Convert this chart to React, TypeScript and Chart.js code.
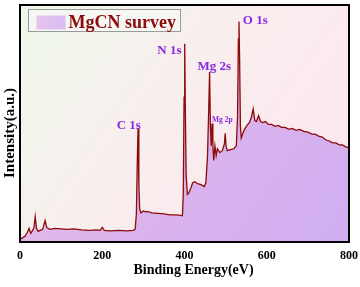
import React, { useEffect, useRef } from "react";
import { Chart, registerables } from "chart.js";

Chart.register(...registerables);

// ---- Data ----
const energyEV: number[] = [
  0, 5, 12, 18, 22, 26, 31, 34, 37, 40, 44, 49, 55, 61, 65, 72, 85, 100, 115, 130,
  150, 170, 185, 195, 200, 205, 220, 240, 260, 275, 280, 283, 285, 287, 289, 291, 294, 300, 305, 310,
  320, 335, 350, 365, 380, 390, 395, 397, 399, 400.5, 402, 404, 407, 410, 415, 420, 425, 432, 440, 448,
  452, 456, 459, 461, 463, 465, 467, 469, 471, 474, 477, 480, 486, 492, 497, 499, 501, 504, 512, 520,
  526, 529, 531, 532.5, 534, 536, 538, 542, 546, 552, 558, 563, 567, 571, 575, 580, 585, 590, 597, 604,
  612, 620, 628, 636, 645, 654, 662, 671, 680, 690, 700, 710, 718, 726, 735, 744, 752, 760, 768, 776,
  784, 792, 800,
];
const intensity: number[] = [
  3, 4, 6, 10, 14, 9, 12, 15, 26, 14, 11, 12, 13, 22, 15, 13, 14, 13.5, 13, 13.5,
  12.5, 12, 12.5, 12, 15, 12, 11.5, 12, 11.5, 12, 13, 29, 79, 117, 59, 34, 30, 32, 31, 31.5,
  30, 29.5, 29, 28, 28, 27.5, 27, 49, 149, 204, 139, 69, 49, 50, 55, 61, 62, 60, 59, 57,
  61, 89, 139, 175, 119, 99, 122, 99, 84, 99, 89, 96, 92, 94, 101, 112, 99, 94, 95, 96,
  99, 129, 209, 227, 189, 119, 107, 112, 116, 120, 123, 129, 137, 125, 124, 130, 124, 123, 124, 121,
  121, 119, 120, 118, 118, 116, 117, 115, 116, 114, 113, 111, 111, 109, 108, 105, 104, 102, 102, 100,
  100, 98, 97,
];
const xTicks: number[] = [0, 200, 400, 600, 800];
const seriesName = "MgCN survey";
const peakLabels: string[] = ["C 1s", "N 1s", "Mg 2s", "Mg 2p", "O 1s"];
const peakLabelEV: number[] = [264.6, 363.4, 472.4, 492, 572];
const peakLabelY: number[] = [116.7, 194, 177, 123.3, 224];
const peakLabelSize: number[] = [13, 13, 13, 7.5, 13];
const xTitle = "Binding Energy(eV)";
const yTitle = "Intensity(a.u.)";

const SERIF = "'Liberation Serif', 'Times New Roman', serif";

export default function App() {
  const canvasRef = useRef<HTMLCanvasElement | null>(null);

  useEffect(() => {
    document.body.style.margin = "0";
    const canvas = canvasRef.current;
    if (!canvas) return;

    const bgPlugin = {
      id: "bgPlugin",
      beforeDatasetsDraw(chart: any) {
        const { ctx, chartArea: a } = chart;
        ctx.save();
        const g = ctx.createLinearGradient(a.left, a.top, a.right, a.bottom);
        g.addColorStop(0, "#eef8ea");
        g.addColorStop(0.45, "#f9eeee");
        g.addColorStop(1, "#fde4ee");
        ctx.fillStyle = g;
        ctx.fillRect(a.left, a.top, a.right - a.left, a.bottom - a.top);
        ctx.restore();
      },
    };

    const overlayPlugin = {
      id: "overlayPlugin",
      afterDraw(chart: any) {
        const { ctx, chartArea: a, scales } = chart;
        const xs = scales.x;
        const ys = scales.y;
        ctx.save();
        // frame
        ctx.strokeStyle = "#000";
        ctx.lineWidth = 2;
        ctx.strokeRect(a.left, a.top, a.right - a.left, a.bottom - a.top);

        // legend box
        const lx = a.left + 8.5;
        const ly = a.top + 4.5;
        ctx.fillStyle = "rgba(246,246,244,0.9)";
        ctx.fillRect(lx, ly, 152, 22);
        ctx.strokeStyle = "#9a9a9a";
        ctx.lineWidth = 1;
        ctx.strokeRect(lx, ly, 152, 22);
        const sg = ctx.createLinearGradient(lx + 8, 0, lx + 37, 0);
        sg.addColorStop(0, "#e8c4ec");
        sg.addColorStop(1, "#d8bcf2");
        ctx.fillStyle = sg;
        ctx.fillRect(lx + 8, ly + 6, 29, 14);
        ctx.fillStyle = "#8b0a0a";
        ctx.font = `bold 18px ${SERIF}`;
        ctx.textAlign = "left";
        ctx.textBaseline = "alphabetic";
        ctx.fillText(seriesName, lx + 40, ly + 18);

        // peak labels
        ctx.fillStyle = "#8a2be2";
        ctx.textAlign = "center";
        for (let i = 0; i < peakLabels.length; i++) {
          ctx.font = `bold ${peakLabelSize[i]}px ${SERIF}`;
          ctx.fillText(
            peakLabels[i],
            xs.getPixelForValue(peakLabelEV[i]),
            ys.getPixelForValue(peakLabelY[i])
          );
        }

        // axis titles
        ctx.fillStyle = "#000";
        ctx.font = `bold 14px ${SERIF}`;
        ctx.textAlign = "center";
        ctx.fillText(xTitle, (a.left + a.right) / 2 + 9, a.bottom + 32);

        ctx.translate(13.5, (a.top + a.bottom) / 2 + 9.5);
        ctx.rotate(-Math.PI / 2);
        ctx.font = `bold 15px ${SERIF}`;
        ctx.fillText(yTitle, 0, 0);
        ctx.restore();
      },
    };

    const chart = new Chart(canvas, {
      type: "line",
      data: {
        datasets: [
          {
            label: seriesName,
            data: energyEV.map((e, i) => ({ x: e, y: intensity[i] })),
            borderColor: "#8b0a0a",
            borderWidth: 1.3,
            pointRadius: 0,
            tension: 0,
            fill: "origin",
            backgroundColor: (c: any) => {
              const a = c.chart.chartArea;
              if (!a) return "#dcb4ec";
              const g = c.chart.ctx.createLinearGradient(a.left, a.top, a.right, a.bottom);
              g.addColorStop(0, "#eac2ea");
              g.addColorStop(0.5, "#dcb4ec");
              g.addColorStop(1, "#d0aef2");
              return g;
            },
          },
        ],
      },
      options: {
        responsive: false,
        animation: false,
        events: [],
        layout: { padding: { left: 20, right: 11, top: 5, bottom: 24.6 } },
        plugins: {
          legend: { display: false },
          tooltip: { enabled: false },
        },
        scales: {
          x: {
            type: "linear",
            min: 0,
            max: 800,
            afterBuildTicks: (s: any) => {
              s.ticks = xTicks.map((v) => ({ value: v }));
            },
            grid: { display: false },
            border: { display: false },
            ticks: {
              color: "#000",
              padding: -1,
              font: { family: SERIF, size: 12, weight: "bold" },
            },
          },
          y: {
            display: false,
            min: 0,
            max: 244,
          },
        },
      },
      plugins: [bgPlugin, overlayPlugin],
    });

    return () => chart.destroy();
  }, []);

  return (
    <div style={{ width: 360, height: 287 }}>
      <canvas ref={canvasRef} width={360} height={287} />
    </div>
  );
}
